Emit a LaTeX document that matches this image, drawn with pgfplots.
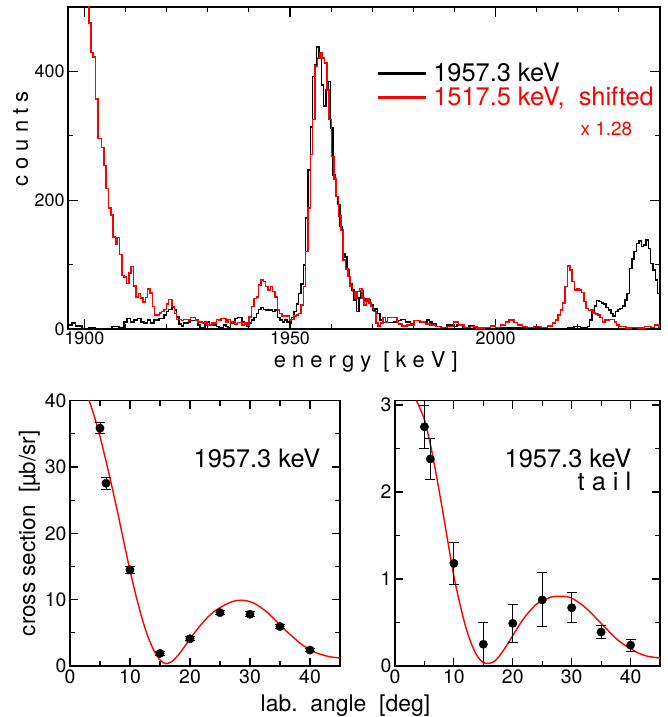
\documentclass[border=0pt]{standalone}
\usepackage{pgfplots}
\pgfplotsset{compat=1.18}
\usepackage{fontspec}
\setmainfont{TeX Gyre Heros}

\begin{document}
\begin{tikzpicture}[x=1bp,y=1bp]
\useasboundingbox (0,0) rectangle (668,717);
\pgfplotsset{
  every axis/.append style={
    scale only axis,
    clip mode=individual,
    axis line style={line width=1.2bp},
    every tick/.append style={black, line width=1.1bp},
    tick align=inside,
    /pgf/number format/assume math mode=true,
    /pgf/number format/set thousands separator={},
  }
}
% ---------------- top: spectra ----------------
\begin{axis}[
  at={(68bp,388bp)}, anchor=south west,
  width=592bp, height=322bp,
  xmin=1896, xmax=2040, ymin=0, ymax=500,
  xtick={1900,1950,2000}, minor xtick={1910,1920,1930,1940,1960,1970,1980,1990,2010,2020,2030},
  ytick={0,200,400}, minor ytick={100,300},
  major tick length=10bp, minor tick length=5bp,
  tick label style={font=\fontsize{18}{18}\selectfont},
  xticklabel style={yshift=1bp},
  legend style={at={(rel axis cs:0.518,0.838)}, anchor=north west, draw=none, fill=none,
    font=\fontsize{25.5}{25.5}\selectfont, row sep=0bp, nodes={inner sep=2bp}},
  legend cell align=left,
  legend image code/.code={\fill[#1] (0bp,-0.8bp) rectangle (47bp,0.8bp);},
]
\addlegendimage{black}
\addlegendentry{\hspace{6bp}1957.3 keV}
\addlegendimage{red}
\addlegendentry{\hspace{6bp}\textcolor{red}{1517.5 keV,\ \ shifted}}
\addplot[const plot, black, line width=1.5bp, forget plot] coordinates {
(1896,6) (1897.0,9) (1897.8,5) (1899.4,1) (1901.1,2.5) (1902.7,1) (1906.75,3.6) (1908.4,2.5)
(1909.6,11) (1910.4,16.5) (1911.2,11) (1912.0,14) (1912.85,16.5) (1913.7,11) (1914.5,9) (1915.3,14)
(1916.1,9) (1916.9,14) (1918.1,16.5) (1919.35,22) (1919.9,27) (1920.5,30) (1921.3,33) (1921.87,29.5)
(1922.44,19) (1923.0,8) (1923.58,4.7) (1924.15,9) (1925.28,11) (1925.85,13) (1927.56,6) (1928.13,2.6)
(1929.27,8) (1929.84,11) (1930.4,6) (1932.1,3.6) (1932.68,1.5) (1933.82,6) (1934.39,3.6) (1934.96,1.5)
(1935.53,9) (1936.67,16.5) (1937.24,18) (1938.37,11) (1938.94,8) (1939.5,3.6) (1940.08,9) (1940.65,14)
(1941.2,18) (1941.8,24) (1942.36,30.6) (1942.93,33.7) (1943.5,30.6) (1944.07,29.5) (1945.77,27) (1946.34,29.5)
(1946.9,18) (1947.56,14) (1948.13,11) (1948.7,14) (1949.27,11) (1949.84,9) (1950.41,18) (1950.98,27)
(1951.54,39) (1952.11,55) (1952.68,70) (1953.25,99.5) (1953.82,172) (1954.39,247) (1954.96,314) (1955.53,392)
(1956.1,410) (1956.5,438) (1957.07,421) (1957.64,379) (1958.2,346.5) (1958.78,371) (1959.35,384) (1959.9,312)
(1960.5,239) (1961.06,205.6) (1961.6,193) (1962.2,159) (1962.76,117.6) (1963.33,112) (1963.9,92) (1964.47,71)
(1965.04,60.6) (1965.6,45) (1966.18,27) (1966.75,48) (1967.3,60) (1967.89,47.7) (1968.45,43) (1969.02,45)
(1969.6,37) (1970.16,29.5) (1970.73,31) (1971.3,24) (1971.87,14) (1972.44,10) (1973.6,10) (1975.2,11)
(1976.4,13) (1977.0,15) (1978.1,11) (1979.3,8) (1980.1,13) (1981.5,11) (1983.3,14) (1983.9,11)
(1984.5,8) (1985.6,3.6) (1986.75,2.6) (1988.2,6) (1989.4,3.6) (1990.65,6) (1991.9,2.6) (1993.5,4.7)
(1994.7,1.5) (1998.8,3.6) (2000.0,2.6) (2001.2,1.5) (2008.5,2.6) (2010.2,1.5) (2012.6,1) (2017.5,2.6)
(2019.1,3.6) (2020.7,1.5) (2022.4,3.6) (2022.9,14) (2023.5,27) (2024.1,35.7) (2024.6,44) (2025.2,42.5)
(2025.8,40) (2026.3,38.6) (2026.9,33.7) (2027.5,29.5) (2028.05,24) (2028.6,20) (2029.2,27) (2029.8,30.6)
(2030.3,32) (2030.9,35.7) (2031.5,45) (2032.0,55.4) (2032.6,94) (2033.2,109) (2033.7,120) (2034.3,133)
(2034.9,137) (2035.45,128) (2036.0,130.5) (2036.6,138) (2037.2,125) (2037.7,102) (2038.3,91.7) (2038.9,76)
(2039.4,55.4) (2040,55.4)
};
\addplot[const plot, red, line width=1.5bp, forget plot] coordinates {
(1896,600) (1901.06,475) (1901.63,429) (1902.12,422) (1902.68,357) (1903.25,296) (1904.15,282) (1904.72,254)
(1905.28,218) (1905.85,188) (1906.42,177) (1906.99,143) (1907.56,132) (1907.97,142) (1908.54,116) (1909.11,83)
(1909.67,81) (1910.24,71) (1910.81,87) (1911.38,97) (1911.95,67) (1912.52,50) (1913.09,55) (1913.66,48)
(1914.23,42) (1914.80,49) (1915.37,62) (1915.93,56) (1916.50,35) (1917.07,22) (1918.2,25) (1918.78,27)
(1919.35,30) (1919.92,39) (1920.49,46) (1921.3,34.7) (1921.87,24) (1922.44,15) (1923.58,13) (1924.15,15)
(1925.28,14) (1925.85,18) (1927.0,14) (1927.56,11) (1928.7,9) (1929.27,11) (1929.84,6) (1931.0,9)
(1932.1,15) (1932.68,13) (1933.25,16.5) (1934.39,10) (1934.96,15) (1935.53,11) (1936.67,8) (1937.24,10)
(1938.37,6) (1938.94,9) (1939.5,6) (1940.08,19) (1940.65,34.7) (1941.2,47.7) (1941.8,50) (1942.36,68)
(1942.93,76) (1943.5,74) (1944.07,66) (1944.63,60.6) (1945.2,66) (1945.77,58) (1946.34,50) (1946.9,29.5)
(1947.5,24) (1948.1,20) (1949.84,14) (1950.41,15) (1950.98,20) (1951.54,22) (1952.11,24) (1952.68,37)
(1953.25,65.8) (1953.82,120) (1954.39,187.5) (1954.96,271) (1955.53,325) (1956.1,408) (1956.67,421) (1957.24,429)
(1957.8,421) (1958.37,413) (1958.94,371) (1959.5,325) (1960.08,268) (1960.65,233) (1961.22,205.6) (1961.8,175.5)
(1962.36,154) (1962.93,107) (1963.5,93) (1964.06,81.6) (1964.63,65.8) (1965.2,58) (1965.77,47.7) (1966.34,58)
(1966.9,63) (1967.48,48) (1968.05,37) (1968.62,47.7) (1969.2,40) (1969.76,35) (1970.33,27) (1970.9,9)
(1971.46,4.7) (1972.03,9) (1972.6,18) (1973.17,11) (1973.74,18) (1974.8,18) (1976.0,11) (1976.4,8)
(1977.2,4.7) (1978.5,6) (1980.1,13) (1981.7,11) (1982.9,8) (1984.1,6) (1985.4,3.6) (1986.6,2.6)
(1988.2,3.6) (1989.8,11) (1991.0,6) (1992.3,2.6) (1993.9,3.6) (1995.5,1.5) (1997.2,2.6) (1998.8,4.7)
(2000.0,2.6) (2001.2,6) (2002.4,11) (2003.25,14) (2004.5,10) (2005.3,6) (2006.5,3.6) (2007.7,2.6)
(2009.35,3.6) (2011.0,2.6) (2012.6,4.7) (2013.8,9) (2014.6,14) (2015.2,21.8) (2015.8,29.5) (2016.3,40)
(2016.9,65.8) (2017.5,98) (2018.05,91.7) (2018.6,73.5) (2019.2,60.6) (2019.8,63) (2020.3,60.6) (2020.9,56.5)
(2021.5,42.5) (2022.0,32) (2022.6,28.5) (2023.2,29.5) (2023.7,25) (2024.3,23) (2024.9,21.8) (2025.45,18)
(2026.0,11) (2026.6,14) (2027.7,15) (2028.9,11) (2029.4,6) (2030.0,3.6) (2031.7,1.5) (2032.9,2.6)
(2034.55,1.5) (2036.2,3.6) (2037.8,2.6) (2038.6,6) (2039.8,2.6) (2040,2.6)
};
\node[anchor=base west, red, font=\fontsize{19}{19}\selectfont] at (rel axis cs:0.86,0.602) {x 1.28};
\node[rotate=90, font=\fontsize{22}{22}\selectfont] at (rel axis cs:-0.08,0.59) {c o u n t s};
\node[anchor=base, font=\fontsize{22}{22}\selectfont] at (rel axis cs:0.503,-0.12) {e n e r g y \ [ k e V ]};
\end{axis}

% ---------------- bottom left ----------------
\begin{axis}[
  at={(70bp,51bp)}, anchor=south west,
  width=270bp, height=265.3bp,
  xmin=0, xmax=45, ymin=0, ymax=40,
  xtick={0,10,20,30,40}, minor xtick={5,15,25,35,45},
  ytick={0,10,20,30,40}, minor ytick={5,15,25,35},
  major tick length=8bp, minor tick length=5bp,
  tick label style={font=\fontsize{19.5}{19.5}\selectfont},
]
\addplot[red, line width=1.4bp, smooth] coordinates {
(3,40.5) (4,37.8) (5,34.6) (6,30.9) (7,27.0) (8,22.9) (9,18.6) (10,14.4) (11,10.6) (12,7.2)
(13,4.4) (14,2.3) (15,0.9) (16,0.35) (17,0.7) (18,1.6) (19,2.8) (20,4.1) (21,5.3) (22,6.4)
(23,7.4) (24,8.2) (25,8.8) (26,9.3) (27,9.7) (28,9.9) (29,9.9) (30,9.7) (31,9.3) (32,8.7)
(33,8.0) (34,7.1) (35,6.2) (36,5.3) (37,4.5) (38,3.7) (39,3.0) (40,2.5) (41,2.0) (42,1.7)
(43,1.45) (44,1.3) (45,1.2)
};
\addplot[only marks, mark=*, mark size=4.2bp, black,
  error bars/.cd, y dir=both, y explicit,
  error bar style={line width=1bp},
  error mark options={rotate=90, mark size=5bp, line width=1bp}] coordinates {
(5,35.85) +- (0,0.85)
(6,27.55) +- (0,0.9)
(10,14.5) +- (0,0.55)
(15,1.9) +- (0,0.3)
(20,4.1) +- (0,0.3)
(25,8.05) +- (0,0.3)
(30,7.8) +- (0,0.35)
(35,5.95) +- (0,0.3)
(40,2.4) +- (0,0.2)
};
\node[anchor=base east, font=\fontsize{25.5}{25.5}\selectfont] at (rel axis cs:0.94,0.75) {1957.3 keV};
\node[rotate=90, font=\fontsize{22.5}{22.5}\selectfont] at (rel axis cs:-0.15,0.5) {cross section\ \ [µb/sr]};
\node[anchor=base, font=\fontsize{23}{23}\selectfont] at (rel axis cs:1.02,-0.17) {lab.\ \ angle\ \ [deg]};
\end{axis}

% ---------------- bottom right ----------------
\begin{axis}[
  at={(395bp,51bp)}, anchor=south west,
  width=265bp, height=265.3bp,
  xmin=0, xmax=45, ymin=0, ymax=3.05,
  xtick={0,10,20,30,40}, minor xtick={5,15,25,35,45},
  ytick={0,1,2,3}, minor ytick={0.5,1.5,2.5},
  major tick length=8bp, minor tick length=5bp,
  tick label style={font=\fontsize{19.5}{19.5}\selectfont},
]
\addplot[red, line width=1.4bp, smooth] coordinates {
(3.6,3.05) (4,3.0) (5,2.83) (6,2.55) (7,2.2) (8,1.82) (9,1.42) (10,1.03) (11,0.72) (12,0.45)
(13,0.25) (14,0.11) (15,0.04) (16,0.03) (17,0.06) (18,0.14) (19,0.24) (20,0.35) (21,0.46) (22,0.56)
(23,0.64) (24,0.71) (25,0.75) (26,0.78) (27,0.8) (28,0.8) (29,0.8) (30,0.78) (31,0.74) (32,0.69)
(33,0.63) (34,0.56) (35,0.49) (36,0.42) (37,0.35) (38,0.29) (39,0.24) (40,0.2) (41,0.16) (42,0.13)
(43,0.11) (44,0.1) (45,0.09)
};
\addplot[only marks, mark=*, mark size=4.2bp, black,
  error bars/.cd, y dir=both, y explicit,
  error bar style={line width=1bp},
  error mark options={rotate=90, mark size=5bp, line width=1bp}] coordinates {
(5,2.75) +- (0,0.25)
(6,2.38) +- (0,0.235)
(10,1.18) +- (0,0.24)
(15,0.25) +- (0,0.25)
(20,0.49) +- (0,0.22)
(25,0.76) +- (0,0.31)
(30,0.67) +- (0,0.17)
(35,0.39) +- (0,0.07)
(40,0.24) +- (0,0.07)
};
\node[anchor=base east, font=\fontsize{25.5}{25.5}\selectfont] at (rel axis cs:0.905,0.75) {1957.3 keV};
\node[anchor=base east, font=\fontsize{25.5}{25.5}\selectfont] at (rel axis cs:0.905,0.663) {t a i l};
\end{axis}
\end{tikzpicture}
\end{document}
